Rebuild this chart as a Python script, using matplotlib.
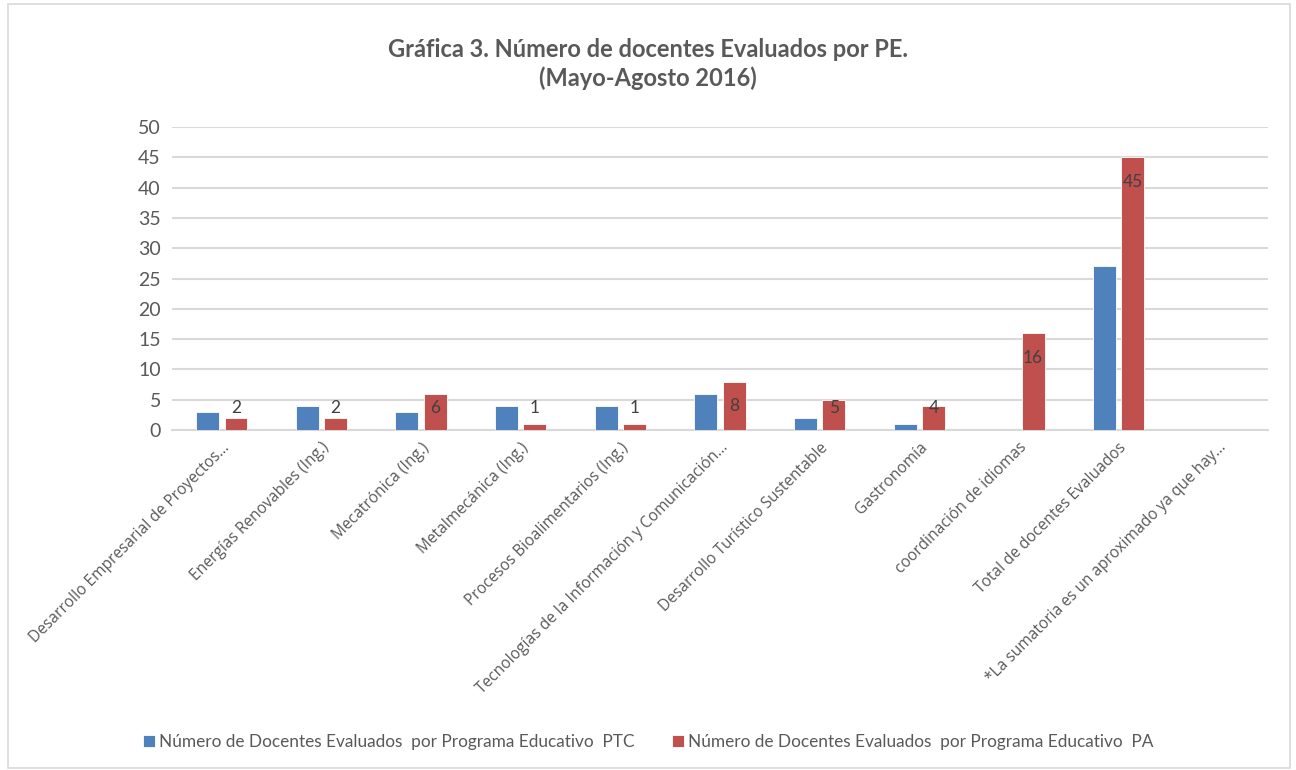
import matplotlib
matplotlib.use("Agg")
import matplotlib.pyplot as plt
import numpy as np
from matplotlib.patches import Rectangle

plt.rcParams['font.family'] = ['Lato', 'DejaVu Sans']

categories = [
    "Desarrollo Empresarial de Proyectos...",
    "Energías Renovables (Ing.)",
    "Mecatrónica (Ing.)",
    "Metalmecánica (Ing.)",
    "Procesos Bioalimentarios (Ing.)",
    "Tecnologías de la Información y Comunicación...",
    "Desarrollo Turístico Sustentable",
    "Gastronomía",
    "coordinación de idiomas",
    "Total de docentes Evaluados",
    "*La sumatoria es un aproximado ya que hay...",
]
ptc = [3, 4, 3, 4, 4, 6, 2, 1, 0, 27, 0]
pa = [2, 2, 6, 1, 1, 8, 5, 4, 16, 45, 0]
pa_labels = ["2", "2", "6", "1", "1", "8", "5", "4", "16", "45", None]

label_ptc = "Número de Docentes Evaluados  por Programa Educativo  PTC"
label_pa = "Número de Docentes Evaluados  por Programa Educativo  PA"
title = "Gráfica 3. Número de docentes Evaluados por PE.\n(Mayo-Agosto 2016)"

blue = "#4f81bd"
red = "#c0504d"
grid_c = "#d9d9d9"
text_c = "#595959"

fig = plt.figure(figsize=(12.96, 7.70), dpi=100)
ax = fig.add_axes([172/1296, 1-430/770, (1268-172)/1296, (430-127)/770])

x = np.arange(len(categories))
w = 0.23
off = 0.142
ax.bar(x - off, ptc, width=w, color=blue, edgecolor="#ffffff", linewidth=0.6, zorder=3, label=label_ptc)
ax.bar(x + off, pa, width=w, color=red, edgecolor="#ffffff", linewidth=0.6, zorder=3, label=label_pa)

for xi, v, lab in zip(x, pa, pa_labels):
    if lab is None:
        continue
    y = max(v - 4.1, 3.6)
    ax.text(xi + off, y, lab, ha="center", va="center", fontsize=12.5, color="#404040", zorder=4)

ax.set_xlim(-0.5, len(categories) - 0.5)
ax.set_ylim(0, 50)
ax.set_yticks(range(0, 51, 5))
ax.yaxis.grid(True, color=grid_c, linewidth=1.5, zorder=0)
ax.set_axisbelow(True)
for s in ["top", "right", "left"]:
    ax.spines[s].set_visible(False)
ax.spines["bottom"].set_color(grid_c)
ax.spines["bottom"].set_linewidth(1.5)
ax.tick_params(axis="both", length=0, colors=text_c)
ax.tick_params(axis="y", labelsize=14, pad=8)
ax.set_xticks(x)
ax.set_xticklabels(categories, rotation=45, ha="right", rotation_mode="anchor", fontsize=11.2,
                   color=text_c, family=["Open Sans", "DejaVu Sans"])
ax.tick_params(axis="x", pad=7)

fig.text(0.5, 1 - 64/770, title, ha="center", va="center", fontsize=17, fontweight="bold",
         color=text_c, linespacing=1.3)

handles, labels = ax.get_legend_handles_labels()
fig.legend(handles, labels, loc="center", bbox_to_anchor=(0.5, 1-742/770), ncol=2, frameon=False,
           fontsize=12.4, handlelength=0.7, handleheight=0.7, handletextpad=0.2, columnspacing=2.2,
           labelcolor=text_c)

fig.patches.append(Rectangle((8/1296, 2/770), (1290-8)/1296, (766-2)/770, transform=fig.transFigure,
                             fill=False, edgecolor=grid_c, linewidth=1.2))

fig.savefig("out.png", dpi=100, facecolor="white")
